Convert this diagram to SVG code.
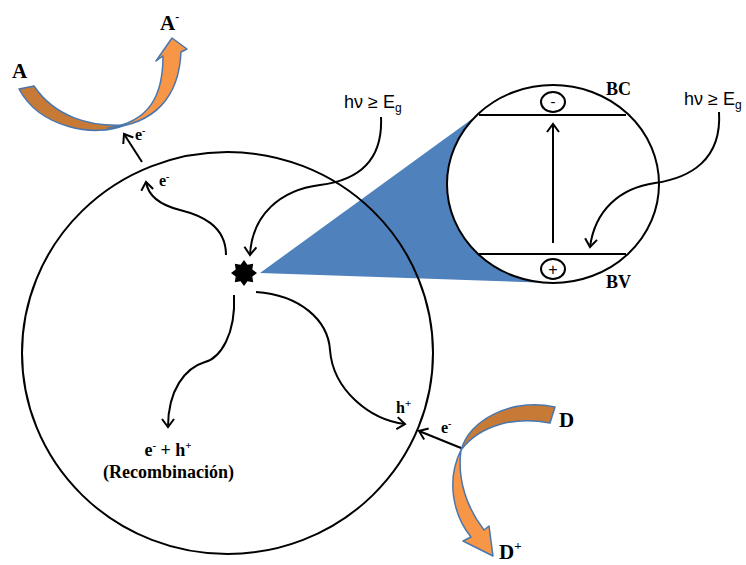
<svg xmlns="http://www.w3.org/2000/svg" width="746" height="565" viewBox="0 0 746 565">
<style>
.ln{fill:none;stroke:#000;stroke-width:2}
.lb{font-family:"Liberation Serif","Times New Roman",serif;font-weight:bold;fill:#000}
.hv{font-family:"Liberation Sans",Arial,sans-serif;font-size:18px;fill:#000}
.dk{fill:#C67A36;stroke:#4A76AE;stroke-width:1.5;stroke-linejoin:round}
.lt{fill:#F79646;stroke:#4A76AE;stroke-width:1.5;stroke-linejoin:round}
</style>
<defs>
<marker id="ah" viewBox="-10 -7 12 14" refX="0" refY="0" markerWidth="12" markerHeight="14" markerUnits="userSpaceOnUse" orient="auto">
<path d="M-8,-6 L0,0 L-8,6" fill="none" stroke="#000" stroke-width="2"/>
</marker>
</defs>
<rect width="746" height="565" fill="#fff"/>
<g id="wedge">
<polygon points="260,273 472,119 538,282.5" fill="#4F81BD"/>
</g>
<g id="particle">
<ellipse cx="227.5" cy="353" rx="205.5" ry="201" fill="none" stroke="#000" stroke-width="2"/>
</g>
<g id="band-diagram">
<ellipse cx="553" cy="184" rx="106" ry="99" fill="#fff" stroke="#000" stroke-width="2"/>
<line x1="479" y1="115" x2="626" y2="115" stroke="#000" stroke-width="2"/>
<line x1="479" y1="254" x2="626" y2="254" stroke="#000" stroke-width="2"/>
<ellipse cx="553" cy="102" rx="12" ry="10" fill="none" stroke="#000" stroke-width="2"/>
<text x="553" y="107" text-anchor="middle" class="hv" style="font-size:15px">-</text>
<ellipse cx="553" cy="269" rx="12" ry="10" fill="none" stroke="#000" stroke-width="2"/>
<text x="553" y="274.5" text-anchor="middle" class="hv" style="font-size:16px">+</text>
<text x="606" y="95" class="lb" font-size="18">BC</text>
<text x="606" y="288" class="lb" font-size="18">BV</text>
</g>
<g id="star">
<polygon points="244,260 247.44,264.68 253.19,263.81 252.32,269.56 257,273 252.32,276.44 253.19,282.19 247.44,281.32 244,286 240.56,281.32 234.81,282.19 235.68,276.44 231,273 235.68,269.56 234.81,263.81 240.56,264.68" fill="#000"/>
</g>
<g id="acceptor">
<path class="dk" d="M19,89 L34,86 C55,117 90,127 125,125 C95,138 40,128 19,89 Z"/>
<path class="lt" d="M108,128 C150,122 163,95 163,56 L156,61 L172,38 L187,49 L181,52 C179,97 155,124 108,128 Z"/>
<text x="12" y="78" class="lb" font-size="21">A</text>
<text x="160" y="30" class="lb" font-size="21">A<tspan dy="-9" font-size="12">-</tspan></text>
</g>
<g id="donor">
<path class="dk" d="M555,407 L550,423 C515,416 480,425 461,450 C470,420 510,398 555,407 Z"/>
<path class="lt" d="M461,450 C446,480 453,515 471,537 L463,541 L493,556 L489,526 L484,530 C467,508 457,480 461,450 Z"/>
<text x="559" y="427" class="lb" font-size="21">D</text>
<text x="499" y="559" class="lb" font-size="21">D<tspan dy="-9" font-size="13">+</tspan></text>
</g>
<g id="connectors">
<path class="ln" d="M381,117 C383,160 360,180 320,185 C280,190 252,215 250,255" marker-end="url(#ah)"/>
<path class="ln" d="M719,112 C722,160 690,178 655,183 C620,188 595,210 590,247" marker-end="url(#ah)"/>
<line class="ln" x1="553" y1="243" x2="553" y2="124" marker-end="url(#ah)"/>
<path class="ln" d="M226,255 C226,225 200,215 180,210 C160,205 148,195 146,182" marker-end="url(#ah)"/>
<line class="ln" x1="142" y1="162" x2="124" y2="134" marker-end="url(#ah)"/>
<path class="ln" d="M234,295 C236,335 220,358 205,362 C185,368 168,390 168,427" marker-end="url(#ah)"/>
<path class="ln" d="M256,292 C300,295 328,320 330,350 C333,390 370,420 405,424" marker-end="url(#ah)"/>
<line class="ln" x1="461" y1="448" x2="419" y2="431" marker-end="url(#ah)"/>
</g>
<g id="labels">
<text x="344" y="108" class="hv">hν ≥ E<tspan dy="4" font-size="12">g</tspan></text>
<text x="684" y="105" class="hv">hν ≥ E<tspan dy="4" font-size="12">g</tspan></text>
<text x="135" y="140" class="lb" font-size="16">e<tspan dy="-6" font-size="10">-</tspan></text>
<text x="159" y="186" class="lb" font-size="16">e<tspan dy="-6" font-size="10">-</tspan></text>
<text x="396" y="413" class="lb" font-size="16">h<tspan dy="-6" font-size="11">+</tspan></text>
<text x="441" y="433" class="lb" font-size="16">e<tspan dy="-6" font-size="10">-</tspan></text>
<text x="168" y="456" class="lb" font-size="18" text-anchor="middle">e<tspan dy="-7" font-size="11">-</tspan><tspan dy="7"> + h</tspan><tspan dy="-7" font-size="11">+</tspan></text>
<text x="168.5" y="478" class="lb" font-size="18" text-anchor="middle">(Recombinación)</text>
</g>
</svg>
